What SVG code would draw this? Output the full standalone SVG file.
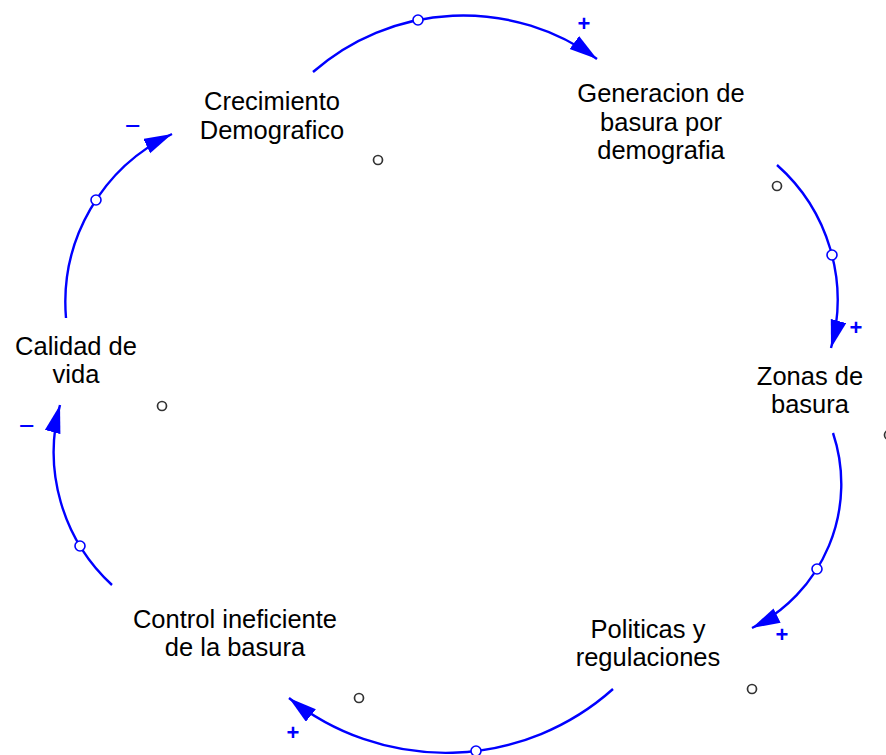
<svg xmlns="http://www.w3.org/2000/svg" width="886" height="755" viewBox="0 0 886 755">
<defs>
<style>
.lbl{font-family:"Liberation Sans",Arial,sans-serif;font-size:25.5px;fill:#000;text-anchor:middle}
.link{fill:none;stroke:#0000ff;stroke-width:2.4;marker-end:url(#arr)}
.hnd{fill:#fff;stroke:#0000ff;stroke-width:1.6}
.dot{fill:#fff;stroke:#333;stroke-width:1.7}
.plus{font-family:"Liberation Sans",Arial,sans-serif;font-size:22px;font-weight:bold;fill:#0000ff;text-anchor:middle}
.minus{font-family:"Liberation Sans",Arial,sans-serif;font-size:27px;fill:#0000ff;text-anchor:middle}
</style>
<marker id="arr" markerUnits="userSpaceOnUse" orient="auto" markerWidth="30" markerHeight="18" refX="28" refY="8">
<path d="M0,0 L28,8 L0,16 Z" fill="#0000ff"/>
</marker>
</defs>
<rect width="886" height="755" fill="#fff"/>
<g id="connectors">
<path class="link" d="M313,72 A227.6,227.6 0 0 1 597,59"/>
<path class="link" d="M777,165 A180,180 0 0 1 831,348"/>
<path class="link" d="M833,433 A160.8,160.8 0 0 1 752,628"/>
<path class="link" d="M613,689 A251.2,251.2 0 0 1 289,698"/>
<path class="link" d="M112,585 A180.4,180.4 0 0 1 60,405"/>
<path class="link" d="M66,318 A186.4,186.4 0 0 1 172,134"/>
<circle class="hnd" cx="418" cy="20" r="5"/>
<circle class="hnd" cx="832" cy="255" r="5"/>
<circle class="hnd" cx="817" cy="569" r="5"/>
<circle class="hnd" cx="476" cy="751" r="5"/>
<circle class="hnd" cx="80" cy="546" r="5"/>
<circle class="hnd" cx="96" cy="200" r="5"/>
<text class="plus" x="584" y="31">+</text>
<text class="plus" x="856" y="335">+</text>
<text class="plus" x="782" y="642">+</text>
<text class="plus" x="293" y="740">+</text>
<text class="minus" x="27" y="435">−</text>
<text class="minus" x="133" y="135">−</text>
</g>
<g id="loop-markers">
<circle class="dot" cx="378" cy="160" r="4.5"/>
<circle class="dot" cx="777" cy="186" r="4.5"/>
<circle class="dot" cx="889" cy="435" r="4.5"/>
<circle class="dot" cx="752" cy="689" r="4.5"/>
<circle class="dot" cx="359" cy="698" r="4.5"/>
<circle class="dot" cx="162" cy="406" r="4.5"/>
</g>
<g id="crecimiento">
<text class="lbl" x="272" y="110">Crecimiento</text>
<text class="lbl" x="272" y="139">Demografico</text>
</g>
<g id="generacion">
<text class="lbl" x="661" y="102">Generacion de</text>
<text class="lbl" x="661" y="130.5">basura por</text>
<text class="lbl" x="661" y="159">demografia</text>
</g>
<g id="zonas">
<text class="lbl" x="810" y="385">Zonas de</text>
<text class="lbl" x="810" y="413">basura</text>
</g>
<g id="politicas">
<text class="lbl" x="648" y="638">Politicas y</text>
<text class="lbl" x="648" y="666">regulaciones</text>
</g>
<g id="control">
<text class="lbl" x="235" y="628">Control ineficiente</text>
<text class="lbl" x="235" y="656">de la basura</text>
</g>
<g id="calidad">
<text class="lbl" x="76" y="355">Calidad de</text>
<text class="lbl" x="76" y="383">vida</text>
</g>
</svg>
